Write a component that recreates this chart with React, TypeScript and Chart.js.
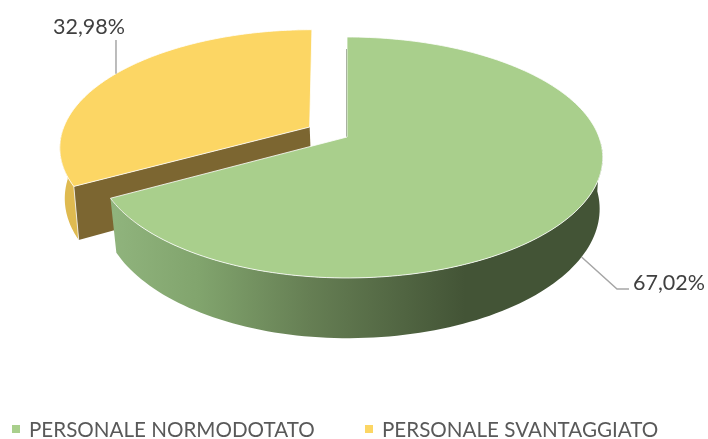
import React, { useEffect, useRef } from "react";
import { Chart, registerables } from "chart.js";

Chart.register(...registerables);

const categories = ["PERSONALE NORMODOTATO", "PERSONALE SVANTAGGIATO"];
const shares = [67.02, 32.98];
const explode = [0, 0.17];
const topColors = ["#A9CF8C", "#FCD664"];
const FONT = "Lato, 'Open Sans', sans-serif";

// Perspective camera for the tilted disc
const CX = 347, CY = 137, BX = 252, AY = 117, K = 0.17, DEPTH = 50;
const EXPLODE_DIR = (300.6 * Math.PI) / 180;

function project(angle: number, r: number, ex: number, z: number): [number, number] {
  const u = Math.sin(angle) * r + Math.sin(EXPLODE_DIR) * ex;
  const v = Math.cos(angle) * r + Math.cos(EXPLODE_DIR) * ex;
  const s = 1 / (1 + K * v);
  let x = BX * u * s;
  const y = CY - AY * v * s + DEPTH * s * z;
  const taper = ex > 0 ? 0.012 : x > 0 ? 0.012 : 0.025;
  x = CX + x * (1 - taper * z);
  if (ex > 0) {
    // slight lens correction for the pulled-out slice
    const ax = 311;
    x = ax + (x - ax) * 0.99 - 1 + (y - 127) * 0.03;
  } else if (x < CX) {
    x = CX + (x - CX) * 0.983;
  }
  return [x, y];
}

function arcPts(a0: number, a1: number, ex: number, z: number) {
  const n = 160;
  const pts: [number, number][] = [];
  for (let i = 0; i <= n; i++) pts.push(project(a0 + ((a1 - a0) * i) / n, 1, ex, z));
  return pts;
}

function wallPts(a0: number, a1: number, ex: number) {
  const n = 160;
  const top: [number, number][] = [];
  const bot: [number, number][] = [];
  for (let i = 0; i <= n; i++) {
    const a = a0 + ((a1 - a0) * i) / n;
    if (Math.cos(a) > -0.02) continue;
    top.push(project(a, 1, ex, 0));
    bot.push(project(a, 1, ex, 1));
  }
  return [...top, ...bot.reverse()];
}

function trace(ctx: CanvasRenderingContext2D, pts: [number, number][], close = true) {
  ctx.beginPath();
  pts.forEach(([x, y], i) => (i ? ctx.lineTo(x, y) : ctx.moveTo(x, y)));
  if (close) ctx.closePath();
}

const pie3d = {
  id: "pie3d",
  beforeDatasetsDraw(chart: any) {
    const ctx: CanvasRenderingContext2D = chart.ctx;
    const arcs = chart.getDatasetMeta(0).data;
    ctx.save();
    ctx.lineJoin = "round";
    for (const i of [1, 0]) {
      const a0 = arcs[i].startAngle + Math.PI / 2;
      const a1 = arcs[i].endAngle + Math.PI / 2;
      const ex = explode[i];
      const top = arcPts(a0, a1, ex, 0);
      const bot = arcPts(a0, a1, ex, 1);
      const apexT = project(0, 0, ex, 0);
      const apexB = project(0, 0, ex, 1);

      // outer wall
      trace(ctx, wallPts(a0, a1, ex));
      if (i === 0) {
        const g = ctx.createLinearGradient(111, 0, 603, 0);
        g.addColorStop(0, "#90B47D");
        g.addColorStop(0.18, "#81A46D");
        g.addColorStop(0.4, "#667F54");
        g.addColorStop(0.72, "#435436");
        g.addColorStop(1, "#435436");
        ctx.fillStyle = g;
      } else {
        ctx.fillStyle = "#DFBA50";
      }
      ctx.fill();

      // cut faces
      if (i === 1) {
        trace(ctx, [apexT, top[0], bot[0], apexB]);
        ctx.fillStyle = "#7C6631";
        ctx.fill();
        ctx.strokeStyle = "rgba(255,255,255,0.75)";
        ctx.lineWidth = 1;
        trace(ctx, [top[0], bot[0]], false);
        ctx.stroke();
      } else {
        trace(ctx, [[apexT[0] - 0.5, apexT[1]], [top[0][0] - 0.5, top[0][1] + 12]], false);
        ctx.strokeStyle = "#6E7F62";
        ctx.lineWidth = 1;
        ctx.stroke();
      }

      // top face
      trace(ctx, [apexT, ...top]);
      ctx.fillStyle = topColors[i];
      ctx.fill();
      ctx.strokeStyle = "rgba(255,255,255,0.8)";
      ctx.lineWidth = 1;
      ctx.stroke();
    }
    ctx.restore();
    return false;
  },
  afterDraw(chart: any) {
    const ctx: CanvasRenderingContext2D = chart.ctx;
    const arcs = chart.getDatasetMeta(0).data;
    const fmt = (v: number) => v.toFixed(2).replace(".", ",") + "%";
    const mid = (i: number) => (arcs[i].startAngle + arcs[i].endAngle) / 2 + Math.PI / 2;
    ctx.save();
    ctx.strokeStyle = "#A6A6A6";
    ctx.lineWidth = 1.5;
    const g = project(mid(0), 1, explode[0], 1);
    ctx.beginPath();
    ctx.moveTo(g[0], g[1]);
    ctx.lineTo(617, 289);
    ctx.lineTo(629, 289);
    ctx.stroke();
    const y = project(mid(1), 1, explode[1], 0);
    ctx.beginPath();
    ctx.moveTo(y[0], y[1]);
    ctx.lineTo(y[0], 40);
    ctx.stroke();
    ctx.fillStyle = "#404040";
    ctx.font = `21.5px ${FONT}`;
    ctx.textBaseline = "middle";
    ctx.textAlign = "left";
    ctx.fillText(fmt(shares[0]), 633, 283);
    ctx.fillText(fmt(shares[1]), 53, 27);

    // legend row
    const xs = [12, 365];
    categories.forEach((name, i) => {
      ctx.fillStyle = topColors[i];
      ctx.fillRect(xs[i], 425, 8, 8);
      ctx.fillStyle = "#595959";
      ctx.font = `20.6px ${FONT}`;
      ctx.fillText(name, xs[i] + 17, 430);
    });
    ctx.restore();
  },
};

export default function App() {
  const ref = useRef<HTMLCanvasElement>(null);
  useEffect(() => {
    document.body.style.margin = "0";
    const chart = new Chart(ref.current!, {
      type: "pie",
      data: {
        labels: categories,
        datasets: [{ data: shares, backgroundColor: topColors, borderWidth: 0 }],
      },
      options: {
        responsive: false,
        animation: false,
        plugins: {
          tooltip: { enabled: false },
          legend: { display: false },
        },
      },
      plugins: [pie3d],
    } as any);
    return () => chart.destroy();
  }, []);
  return <canvas ref={ref} width={708} height={439} style={{ display: "block" }} />;
}
